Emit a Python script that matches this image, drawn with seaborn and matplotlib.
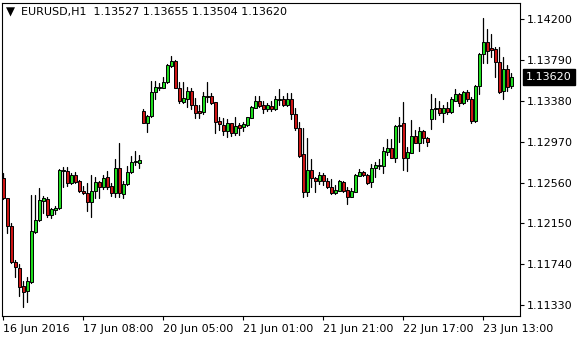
import numpy as np
import pandas as pd
import matplotlib
matplotlib.use("Agg")
import matplotlib.pyplot as plt
import seaborn as sns

symbol = "EURUSD,H1"
header_values = ["1.13527", "1.13655", "1.13504", "1.13620"]
last_price = 1.13620

opens = [
    1.1261, 1.1241, 1.1212, 1.1176, 1.1170, 1.1152, 1.1147, 1.1156, 1.1206, 1.1219,
    1.1238, 1.1240, 1.1224, 1.1229, 1.1231, 1.1268, 1.1268, 1.1256, 1.1264, 1.1258,
    1.1248, 1.1246, 1.1237, 1.1248, 1.1257, 1.1252, 1.1262, 1.1253, 1.1246, 1.1271,
    1.1245, 1.1255, 1.1267, 1.1277, 1.1276, 1.1328, 1.1316, 1.1323, 1.1347, 1.1351,
    1.1351, 1.1357, 1.1373, 1.1378, 1.1351, 1.1337, 1.1340, 1.1348, 1.1334, 1.1328,
    1.1327, 1.1343, 1.1343, 1.1337, 1.1318, 1.1314, 1.1308, 1.1316, 1.1306, 1.1314,
    1.1312, 1.1314, 1.1321, 1.1331, 1.1338, 1.1334, 1.1330, 1.1333, 1.1330, 1.1339,
    1.1340, 1.1334, 1.1340, 1.1325, 1.1311, 1.1285, 1.1247, 1.1269, 1.1261, 1.1258,
    1.1264, 1.1258, 1.1252, 1.1246, 1.1248, 1.1257, 1.1249, 1.1242, 1.1247, 1.1263,
    1.1267, 1.1264, 1.1257, 1.1271, 1.1273, 1.1273, 1.1287, 1.1291, 1.1281, 1.1313,
    1.1316, 1.1281, 1.1286, 1.1303, 1.1296, 1.1308, 1.1301, 1.1320, 1.1330, 1.1331,
    1.1326, 1.1331, 1.1327, 1.1338, 1.1345, 1.1336, 1.1347, 1.1340, 1.1318, 1.1353,
    1.1385, 1.1397, 1.1391, 1.1390, 1.1377, 1.1348, 1.1370, 1.13527,
]
highs = [
    1.1266, 1.1241, 1.1216, 1.1178, 1.1174, 1.1157, 1.1161, 1.1244, 1.1244, 1.1251,
    1.1243, 1.1242, 1.1231, 1.1233, 1.1270, 1.1272, 1.1272, 1.1266, 1.1267, 1.1259,
    1.1253, 1.1256, 1.1264, 1.1262, 1.1258, 1.1264, 1.1268, 1.1256, 1.1280, 1.1296,
    1.1258, 1.1273, 1.1283, 1.1288, 1.1284, 1.1330, 1.1324, 1.1358, 1.1358, 1.1356,
    1.1362, 1.1375, 1.1383, 1.1379, 1.1357, 1.1357, 1.1352, 1.1351, 1.1341, 1.1334,
    1.1347, 1.1357, 1.1346, 1.1337, 1.1322, 1.1321, 1.1320, 1.1316, 1.1322, 1.1316,
    1.1317, 1.1322, 1.1333, 1.1343, 1.1343, 1.1338, 1.1336, 1.1338, 1.1343, 1.1350,
    1.1343, 1.1346, 1.1346, 1.1331, 1.1317, 1.1311, 1.1301, 1.1280, 1.1262, 1.1267,
    1.1266, 1.1261, 1.1260, 1.1254, 1.1259, 1.1258, 1.1252, 1.1251, 1.1265, 1.1270,
    1.1268, 1.1265, 1.1275, 1.1277, 1.1280, 1.1292, 1.1300, 1.1300, 1.1314, 1.1322,
    1.1337, 1.1292, 1.1319, 1.1309, 1.1312, 1.1309, 1.1302, 1.1345, 1.1341, 1.1338,
    1.1334, 1.1337, 1.1342, 1.1350, 1.1346, 1.1348, 1.1349, 1.1342, 1.1354, 1.1386,
    1.1421, 1.1410, 1.1405, 1.1392, 1.1392, 1.1382, 1.1374, 1.13655,
]
lows = [
    1.1240, 1.1205, 1.1175, 1.1161, 1.1142, 1.1131, 1.1136, 1.1155, 1.1205, 1.1218,
    1.1226, 1.1222, 1.1221, 1.1225, 1.1230, 1.1252, 1.1253, 1.1255, 1.1256, 1.1247,
    1.1245, 1.1228, 1.1222, 1.1241, 1.1241, 1.1250, 1.1250, 1.1243, 1.1242, 1.1242,
    1.1241, 1.1254, 1.1266, 1.1274, 1.1271, 1.1316, 1.1307, 1.1322, 1.1340, 1.1349,
    1.1351, 1.1356, 1.1372, 1.1351, 1.1336, 1.1336, 1.1332, 1.1330, 1.1321, 1.1321,
    1.1325, 1.1337, 1.1335, 1.1306, 1.1309, 1.1304, 1.1302, 1.1303, 1.1304, 1.1304,
    1.1308, 1.1313, 1.1321, 1.1331, 1.1332, 1.1326, 1.1328, 1.1328, 1.1329, 1.1334,
    1.1333, 1.1333, 1.1320, 1.1309, 1.1282, 1.1242, 1.1243, 1.1252, 1.1247, 1.1255,
    1.1254, 1.1251, 1.1245, 1.1245, 1.1248, 1.1247, 1.1235, 1.1242, 1.1247, 1.1263,
    1.1263, 1.1255, 1.1252, 1.1262, 1.1270, 1.1266, 1.1284, 1.1281, 1.1277, 1.1297,
    1.1269, 1.1268, 1.1286, 1.1296, 1.1288, 1.1296, 1.1293, 1.1310, 1.1320, 1.1324,
    1.1317, 1.1325, 1.1326, 1.1338, 1.1333, 1.1335, 1.1338, 1.1316, 1.1317, 1.1345,
    1.1376, 1.1376, 1.1382, 1.1362, 1.1346, 1.1340, 1.1348, 1.13504,
]
closes = [
    1.1241, 1.1212, 1.1176, 1.1171, 1.1151, 1.1146, 1.1157, 1.1207, 1.1219, 1.1239,
    1.1241, 1.1224, 1.1230, 1.1231, 1.1269, 1.1269, 1.1256, 1.1264, 1.1257, 1.1248,
    1.1246, 1.1237, 1.1248, 1.1257, 1.1252, 1.1261, 1.1252, 1.1246, 1.1271, 1.1246,
    1.1255, 1.1267, 1.1277, 1.1278, 1.1279, 1.1316, 1.1323, 1.1347, 1.1352, 1.1352,
    1.1357, 1.1374, 1.1378, 1.1351, 1.1338, 1.1341, 1.1348, 1.1334, 1.1326, 1.1326,
    1.1343, 1.1342, 1.1336, 1.1317, 1.1315, 1.1308, 1.1316, 1.1306, 1.1313, 1.1311,
    1.1315, 1.1322, 1.1332, 1.1338, 1.1333, 1.1330, 1.1334, 1.1330, 1.1340, 1.1340,
    1.1334, 1.1340, 1.1325, 1.1311, 1.1283, 1.1247, 1.1269, 1.1261, 1.1258, 1.1264,
    1.1258, 1.1252, 1.1246, 1.1249, 1.1258, 1.1248, 1.1242, 1.1248, 1.1264, 1.1267,
    1.1264, 1.1256, 1.1271, 1.1274, 1.1274, 1.1288, 1.1291, 1.1281, 1.1313, 1.1314,
    1.1281, 1.1287, 1.1303, 1.1296, 1.1308, 1.1301, 1.1297, 1.1330, 1.1331, 1.1326,
    1.1331, 1.1327, 1.1340, 1.1345, 1.1336, 1.1347, 1.1340, 1.1318, 1.1353, 1.1385,
    1.1397, 1.1388, 1.1389, 1.1377, 1.1347, 1.1370, 1.1352, 1.13620,
]

time_tick_bars = [0, 20, 40, 60, 80, 100, 120]
time_tick_labels = ["16 Jun 2016", "17 Jun 08:00", "20 Jun 05:00", "21 Jun 01:00",
                    "21 Jun 21:00", "22 Jun 17:00", "23 Jun 13:00"]
price_ticks = [1.11330, 1.11740, 1.12150, 1.12560, 1.12970, 1.13380, 1.13790, 1.14200]

BULL = "#1edc1e"
BEAR = "#cc1414"

sns.set_theme(style="white")
plt.rcParams["font.family"] = ["DejaVu Sans"]

W, H = 580, 340
fig = plt.figure(figsize=(W / 100, H / 100), dpi=100)
ax = fig.add_axes([2 / W, (H - 316) / H, (520 - 2) / W, (316 - 3) / H])

bars = np.arange(len(opens))
o = np.array(opens); c = np.array(closes)
hi = np.array(highs); lo = np.array(lows)

wicks = pd.DataFrame({
    "bar": np.repeat(bars, 2),
    "price": np.column_stack([lo, hi]).ravel(),
})
sns.lineplot(data=wicks, x="bar", y="price", units="bar", estimator=None,
             sort=False, color="black", lw=0.9, ax=ax, zorder=2)

bottoms = np.minimum(o, c)
heights = np.maximum(np.abs(c - o), 0.00008)
colors = [BULL if cc >= oo else BEAR for oo, cc in zip(o, c)]
ax.bar(bars, heights, bottom=bottoms, width=0.75, color=colors,
       edgecolor="black", linewidth=0.7, zorder=3)

ax.set_xlim(-0.33, 129.2)
ax.set_ylim(1.112227, 1.143604)

ax.set_xticks(time_tick_bars)
ax.set_xticklabels(time_tick_labels, ha="left")
ax.set_yticks(price_ticks)
ax.set_yticklabels([f"{p:.5f}" for p in price_ticks])
ax.yaxis.tick_right()
ax.set_xlabel("")
ax.set_ylabel("")
ax.tick_params(axis="both", which="both", direction="out", length=3, width=0.8,
               colors="black", labelsize=8, pad=2)
ax.tick_params(axis="x", bottom=True, pad=3)
ax.tick_params(axis="y", right=True, left=False, labelright=True, labelleft=False)
for s in ax.spines.values():
    s.set_visible(True)
    s.set_color("black")
    s.set_linewidth(0.8)
ax.grid(False)

# current price marker
ax.text(1.0 + 6 / 518, last_price, f"{last_price:.5f}", transform=ax.get_yaxis_transform(),
        ha="left", va="center", fontsize=8, color="white", clip_on=False, zorder=5,
        bbox=dict(boxstyle="square,pad=0.3", facecolor="black", edgecolor="black"))

# header
fig.text(5.5 / W, 1 - 12.5 / H, "\u25BC", fontsize=8.5, ha="left", va="center", color="black")
fig.text(21 / W, 1 - 12.5 / H, symbol + "  " + " ".join(header_values), fontsize=8,
         ha="left", va="center", color="black")

fig.savefig("out.png", dpi=100, facecolor="white")
